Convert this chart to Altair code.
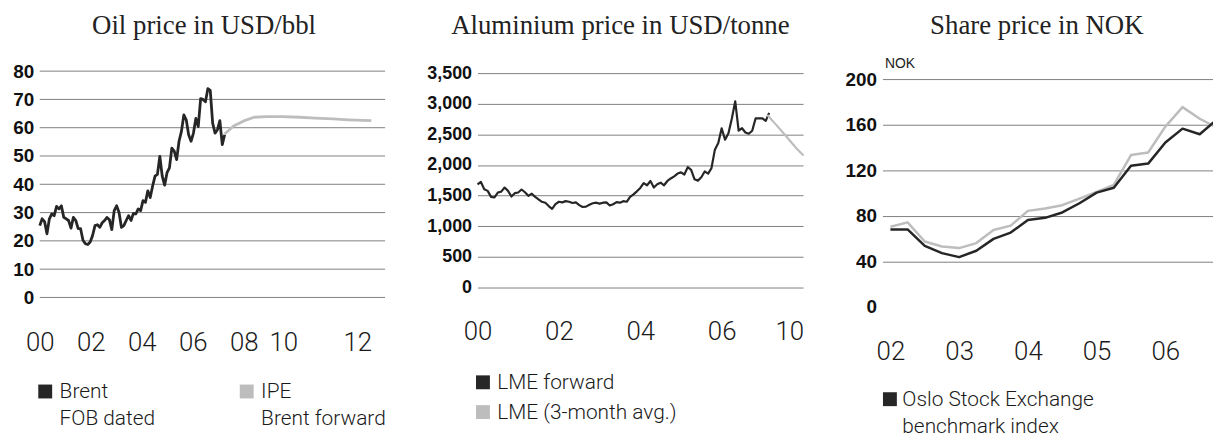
import json
import altair as alt
import numpy as np
import pandas as pd

# ---------------- data ----------------
# Panel 1: oil price (USD/bbl)
OIL_SERIES = ["Brent|FOB dated", "IPE|Brent forward"]
OIL_BRENT = [25.4, 27.8, 26.8, 22.5, 27.8, 29.5, 28.9, 32.2, 31.3, 32.4, 28.3, 27.8, 27.2, 24.5,
             28.3, 27.2, 24.3, 24.3, 20.2, 19.0, 18.7, 19.6, 21.9, 25.4, 25.7, 24.8, 26.4, 27.2,
             28.3, 27.5, 24.0, 30.7, 32.4, 30.1, 24.8, 25.4, 27.2, 28.9, 27.2, 29.7, 29.5, 31.3,
             30.7, 34.2, 33.6, 37.7, 35.3, 39.4, 42.9, 43.5, 49.9, 42.9, 39.7, 44.1, 45.8, 52.8,
             51.7, 48.7, 55.2, 58.7, 64.5, 62.8, 57.5, 55.2, 58.1, 63.3, 60.4, 70.3, 70.0, 69.2,
             73.8, 73.2, 61.6, 58.1, 59.3, 62.5, 54.0, 57.5]
OIL_BRENT_START, OIL_BRENT_END = 2000.0, 2007.25
OIL_FWD_YEARS = [2007.25, 2007.6, 2008.0, 2008.4, 2008.9, 2009.5, 2010.2, 2010.8, 2011.5, 2012.1, 2013.0]
OIL_FWD = [57.8, 60.6, 62.4, 63.7, 63.9, 63.9, 63.7, 63.4, 63.1, 62.8, 62.5]
OIL_Y_TICKS = [0, 10, 20, 30, 40, 50, 60, 70, 80]
OIL_X_TICKS = [2000, 2002, 2004, 2006, 2008, 2009.55, 2012.45]
OIL_X_LABELS = ["00", "02", "04", "06", "08", "10", "12"]

# Panel 2: aluminium price (USD/tonne), monthly from Jan 2000
ALU_SERIES = ["LME forward", "LME (3-month avg.)"]
ALU_LME = [1685, 1723, 1605, 1578, 1480, 1470, 1551, 1565, 1632, 1578, 1485, 1540, 1551, 1600,
           1555, 1497, 1532, 1480, 1440, 1400, 1385, 1330, 1285, 1362, 1400, 1390, 1410, 1400,
           1380, 1389, 1345, 1315, 1320, 1350, 1375, 1385, 1370, 1385, 1390, 1340, 1360, 1395,
           1385, 1410, 1400, 1480, 1520, 1570, 1625, 1705, 1669, 1739, 1632, 1685, 1712, 1669,
           1739, 1780, 1815, 1860, 1880, 1845, 1965, 1920, 1766, 1745, 1800, 1895, 1860, 1950,
           2251, 2360, 2600, 2412, 2520, 2760, 3040, 2560, 2600, 2530, 2510, 2560, 2760, 2760,
           2762, 2720, 2850]
ALU_START = 2000.0
ALU_FWD_YEARS = [2007.12, 2007.34, 2007.59, 2007.83, 2008.01]
ALU_FWD = [2816, 2655, 2466, 2278, 2154]
ALU_Y_TICKS = [0, 500, 1000, 1500, 2000, 2500, 3000, 3500]
ALU_X_TICKS = [2000, 2002, 2004, 2006, 2007.66]
ALU_X_LABELS = ["00", "02", "04", "06", "10"]

# Panel 3: share price (NOK), quarterly from 2002
SHARE_SERIES = ["Oslo Stock Exchange|benchmark index", "Hydro share"]
SHARE_OSE = [68, 68, 53.6, 47.2, 43.7, 49.3, 59.7, 65.2, 76.2, 78.2, 82.9, 91.0, 100.3, 104.6,
             124.0, 125.8, 144.3, 156.5, 151.6, 164.6]
SHARE_HYDRO = [70.4, 74.2, 57.4, 53.0, 51.6, 56.0, 67.5, 71.3, 84.3, 86.4, 89.3, 95.1, 100.9,
               107.2, 133.3, 135.6, 158.3, 175.4, 165.2, 157.4]
SHARE_START = 2002.0
SHARE_Y_TICKS = [0, 40, 80, 120, 160, 200]
SHARE_X_TICKS = [2002, 2003, 2004, 2005, 2006]
SHARE_X_LABELS = ["02", "03", "04", "05", "06"]

TITLES = ["Oil price in USD/bbl", "Aluminium price in USD/tonne", "Share price in NOK"]

# ---------------- styling ----------------
DARK = "#262626"
GREY = "#bdbdbd"
GRID = "#808080"
LIGHT_FONT = "Roboto"
BOLD_FONT = "Liberation Sans"
SERIF = "Liberation Serif"
PLOT_H = 258
SQUARE = "M-1,-3L1,-3L1,-1L-1,-1Z"


def x_axis(values, labels, size, pad):
    expr = f"{json.dumps(labels)}[indexof({json.dumps(values)}, datum.value)]"
    return alt.Axis(values=values, labelExpr=expr, domain=False, ticks=False, grid=False,
                    title=None, labelFont=LIGHT_FONT, labelFontWeight=300, labelFontSize=size,
                    labelColor="#1a1a1a", labelPadding=pad, labelBaseline="alphabetic",
                    labelFlush=False, labelOverlap=False)


def y_axis(values, size, **kw):
    kw.setdefault("title", None)
    return alt.Axis(values=values, domain=False, ticks=False,
                    labelFont=BOLD_FONT, labelFontWeight="bold", labelFontSize=size,
                    labelColor="#111111", labelPadding=6, labelOverlap=False, **kw)


def legend(x, y, direction, offset, **kw):
    return alt.Legend(orient="none", legendX=x, legendY=y, direction=direction, title=None,
                      symbolType=SQUARE, symbolSize=49, symbolStrokeWidth=7, symbolOpacity=1,
                      labelFont=LIGHT_FONT, labelFontWeight=300, labelFontSize=21,
                      labelColor="#1a1a1a", labelOffset=offset, labelLimit=400,
                      labelBaseline="alphabetic", labelExpr="split(datum.label, '|')",
                      padding=0, **kw)


def title(text, dx):
    return alt.TitleParams(text=text, font=SERIF, fontSize=27, fontWeight="normal",
                           color="#222222", anchor="middle", frame="group",
                           baseline="alphabetic", offset=-7, dx=dx)


# ---------------- panel 1: oil ----------------
oil_df = pd.DataFrame({
    "year": list(np.linspace(OIL_BRENT_START, OIL_BRENT_END, len(OIL_BRENT))) + OIL_FWD_YEARS,
    "price": OIL_BRENT + OIL_FWD,
    "series": [OIL_SERIES[0]] * len(OIL_BRENT) + [OIL_SERIES[1]] * len(OIL_FWD),
})
oil_grid = pd.DataFrame({"v": OIL_Y_TICKS, "x0": 2000.0, "x1": 2013.54})
oil_x_scale = alt.Scale(domain=[2000, 2014.05], nice=False, zero=False)
oil_y_scale = alt.Scale(domain=[-4.56, 85.96], nice=False, zero=False)
oil_xa = x_axis(OIL_X_TICKS, OIL_X_LABELS, 26, 40)
oil_ya = y_axis(OIL_Y_TICKS, 19, grid=False)

oil_rules = alt.Chart(oil_grid).mark_rule(color=GRID, strokeWidth=1).encode(
    x=alt.X("x0:Q", scale=oil_x_scale, axis=oil_xa),
    x2="x1:Q",
    y=alt.Y("v:Q", scale=oil_y_scale, axis=oil_ya),
)
oil_lines = alt.Chart(oil_df).mark_line(strokeWidth=2.8, strokeJoin="round").encode(
    x=alt.X("year:Q", scale=oil_x_scale, axis=oil_xa),
    y=alt.Y("price:Q", scale=oil_y_scale, axis=oil_ya),
    color=alt.Color("series:N", sort=OIL_SERIES,
                    scale=alt.Scale(domain=OIL_SERIES, range=[DARK, GREY]),
                    legend=legend(-5, 336, "horizontal", 4, columnPadding=74)),
)
p1 = alt.layer(oil_rules, oil_lines).properties(width=361, height=PLOT_H, title=title(TITLES[0], -15))

# ---------------- panel 2: aluminium ----------------
alu_df = pd.DataFrame({
    "year": [ALU_START + i / 12 for i in range(len(ALU_LME))] + ALU_FWD_YEARS,
    "price": ALU_LME + ALU_FWD,
    "series": [ALU_SERIES[0]] * len(ALU_LME) + [ALU_SERIES[1]] * len(ALU_FWD),
})
p2 = alt.Chart(alu_df).mark_line(strokeWidth=2.2, strokeJoin="round").encode(
    x=alt.X("year:Q", scale=alt.Scale(domain=[2000, 2008], nice=False, zero=False),
            axis=x_axis(ALU_X_TICKS, ALU_X_LABELS, 26, 29)),
    y=alt.Y("price:Q", scale=alt.Scale(domain=[-372.7, 3807.9], nice=False, zero=False),
            axis=y_axis(ALU_Y_TICKS, 18, grid=True, gridColor=GRID, gridWidth=1, format=",d")),
    color=alt.Color("series:N", sort=ALU_SERIES,
                    scale=alt.Scale(domain=ALU_SERIES, range=[DARK, GREY]),
                    legend=legend(-5, 327, "vertical", 4, rowPadding=-5)),
).properties(width=328, height=PLOT_H, title=title(TITLES[1], -20))

# ---------------- panel 3: share price ----------------
n = len(SHARE_OSE)
share_df = pd.DataFrame({
    "year": [SHARE_START + i * 0.25 for i in range(n)] * 2,
    "price": SHARE_HYDRO + SHARE_OSE,
    "series": [SHARE_SERIES[1]] * n + [SHARE_SERIES[0]] * n,
    "order": [0] * n + [1] * n,
})
p3 = alt.Chart(share_df).mark_line(strokeWidth=2.5, strokeJoin="round", clip=True).encode(
    x=alt.X("year:Q", scale=alt.Scale(domain=[2001.8845, 2006.693], nice=False, zero=False),
            axis=x_axis(SHARE_X_TICKS, SHARE_X_LABELS, 26, 50)),
    y=alt.Y("price:Q", scale=alt.Scale(domain=[-3.05, 221.8], nice=False, zero=False),
            axis=y_axis(SHARE_Y_TICKS, 19, grid=True, gridColor=GRID, gridWidth=1,
                        gridOpacity={"condition": {"test": "datum.value === 0", "value": 0}, "value": 1},
                        title="NOK", titleAngle=0, titleAlign="left", titleBaseline="middle",
                        titleX=2, titleY=9, titleFont=BOLD_FONT, titleFontSize=14,
                        titleFontWeight="normal", titleColor="#222222")),
    color=alt.Color("series:N", sort=SHARE_SERIES,
                    scale=alt.Scale(domain=SHARE_SERIES, range=[DARK, GREY]),
                    legend=legend(-3, 344, "vertical", 2, values=[SHARE_SERIES[0]])),
    detail="order:N",
    order=alt.Order("order:Q"),
).properties(width=333, height=PLOT_H, title=title(TITLES[2], -11))

chart = (
    alt.hconcat(p1, p2, p3, spacing=80, bounds="flush")
    .resolve_scale(color="independent")
    .resolve_legend(color="independent")
    .properties(padding={"left": 4, "top": 3, "right": 0, "bottom": 0})
    .configure(style={"guide-label": {"lineHeight": 27}})
    .configure_view(stroke=None)
)

chart.save("out.html", embed_options={"renderer": "svg", "actions": False})
